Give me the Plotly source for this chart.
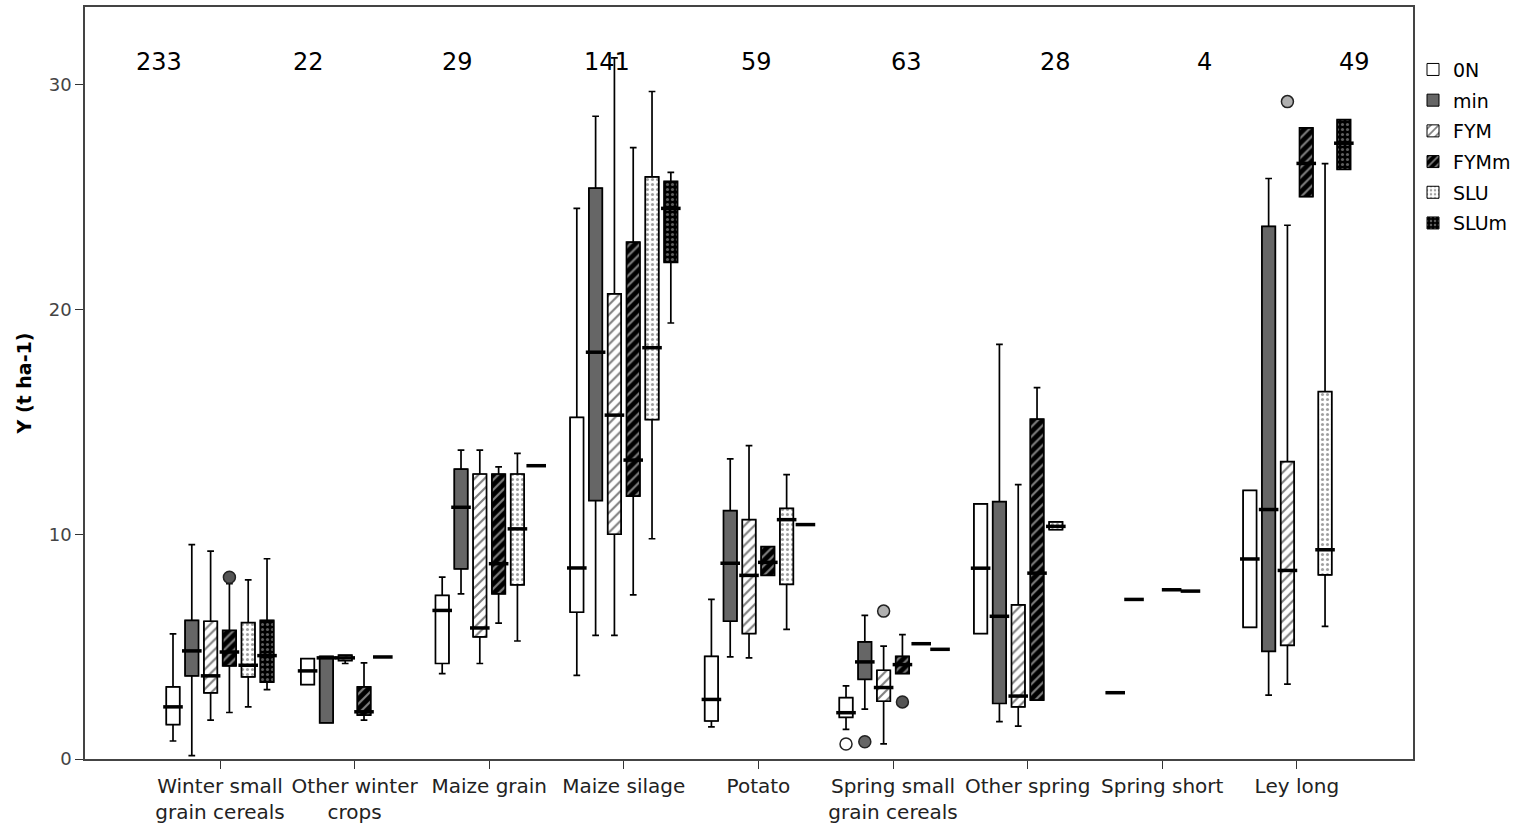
import plotly.graph_objects as go

# ---------------- data ----------------
CATEGORIES = ["Winter small<br>grain cereals", "Other winter<br>crops", "Maize grain",
              "Maize silage", "Potato", "Spring small<br>grain cereals", "Other spring",
              "Spring short", "Ley long"]
COUNTS = [233, 22, 29, 141, 59, 63, 28, 4, 49]
TREATMENTS = ["0N", "min", "FYM", "FYMm", "SLU", "SLUm"]
Y_TICKS = [0, 10, 20, 30]

# (lower whisker, Q1, median, Q3, upper whisker) per category, None = no data
STATS_0N = [(0.80, 1.53, 2.32, 3.21, 5.57), (3.31, 3.31, 3.92, 4.47, 4.47),
            (3.80, 4.25, 6.61, 7.28, 8.09), (3.72, 6.53, 8.50, 15.2, 24.5),
            (1.43, 1.69, 2.65, 4.57, 7.10), (1.32, 1.85, 2.06, 2.73, 3.25),
            (5.58, 5.58, 8.49, 11.35, 11.35), (2.95, 2.95, 2.95, 2.95, 2.95),
            (5.86, 5.86, 8.90, 11.95, 11.95)]
STATS_MIN = [(0.15, 3.70, 4.81, 6.17, 9.54), (1.61, 1.61, 4.50, 4.57, 4.57),
             (7.35, 8.46, 11.2, 12.9, 13.74), (5.50, 11.5, 18.1, 25.4, 28.6),
             (4.54, 6.13, 8.71, 11.05, 13.35), (2.22, 3.54, 4.32, 5.21, 6.39),
             (1.66, 2.47, 6.35, 11.45, 18.45), (7.10, 7.10, 7.10, 7.10, 7.10),
             (2.84, 4.79, 11.1, 23.7, 25.83)]
STATS_FYM = [(1.73, 2.94, 3.70, 6.13, 9.25), (4.25, 4.38, 4.50, 4.62, 4.62),
             (4.25, 5.43, 5.83, 12.68, 13.74), (5.50, 10.0, 15.3, 20.7, 31.2),
             (4.50, 5.58, 8.17, 10.65, 13.94), (0.67, 2.57, 3.18, 3.95, 5.02),
             (1.46, 2.32, 2.80, 6.86, 12.21), None,
             (3.33, 5.06, 8.39, 13.23, 23.75)]
STATS_FYMM = [(2.07, 4.14, 4.76, 5.72, 7.80), (1.73, 1.95, 2.10, 3.21, 4.28),
              (6.05, 7.35, 8.69, 12.68, 13.0), (7.30, 11.7, 13.3, 23.0, 27.2),
              (8.17, 8.17, 8.75, 9.45, 9.45), (3.80, 3.80, 4.20, 4.57, 5.53),
              (2.62, 2.62, 8.27, 15.12, 16.52), (7.53, 7.53, 7.53, 7.53, 7.53),
              (25.02, 25.02, 26.5, 28.08, 28.08)]
STATS_SLU = [(2.32, 3.65, 4.17, 6.07, 7.97), (4.54, 4.54, 4.54, 4.54, 4.54),
             (5.25, 7.75, 10.24, 12.68, 13.6), (9.80, 15.1, 18.3, 25.9, 29.7),
             (5.77, 7.77, 10.65, 11.15, 12.65), (5.13, 5.13, 5.13, 5.13, 5.13),
             (10.2, 10.2, 10.35, 10.55, 10.55), (7.47, 7.47, 7.47, 7.47, 7.47),
             (5.90, 8.19, 9.31, 16.35, 26.49)]
STATS_SLUM = [(3.09, 3.42, 4.60, 6.17, 8.91), None,
              (13.05, 13.05, 13.05, 13.05, 13.05), (19.4, 22.1, 24.5, 25.7, 26.1),
              (10.43, 10.43, 10.43, 10.43, 10.43), (4.88, 4.88, 4.88, 4.88, 4.88),
              None, None,
              (26.23, 26.23, 27.4, 28.45, 28.45)]
ALL_STATS = [STATS_0N, STATS_MIN, STATS_FYM, STATS_FYMM, STATS_SLU, STATS_SLUM]

# outliers: category index, treatment index, value
OUTLIER_CAT = [0, 5, 5, 5, 5, 8]
OUTLIER_TRT = [3, 0, 1, 2, 3, 2]
OUTLIER_VAL = [8.09, 0.67, 0.77, 6.58, 2.54, 29.25]

# ---------------- styles ----------------
FONT = "DejaVu Sans"
SLOT = 0.1397      # spacing between treatments within a category (x units)
BOX_W = 0.10       # box width (x units)
FILL_BG = ["white", "#666666", "white", "black", "white", "black"]
PAT_SHAPE = ["", "", "/", "/", ".", "."]
PAT_FG = ["black", "black", "black", "white", "#444444", "#bbbbbb"]
PAT_SIZE = [8, 8, 7, 7, 5, 5]
PAT_SOLID = [0.3, 0.3, 0.3, 0.3, 0.3, 0.3]
OUT_FILL = ["white", "#666666", "#b0b0b0", "#555555", "#dddddd", "#333333"]

fig = go.Figure()

for j, (name, stats) in enumerate(zip(TREATMENTS, ALL_STATS)):
    xs, lo, q1, med, q3, hi = [], [], [], [], [], []
    for i, s in enumerate(stats):
        if s is None:
            continue
        xs.append(i + (j - 2.5) * SLOT)
        lo.append(s[0]); q1.append(s[1]); med.append(s[2]); q3.append(s[3]); hi.append(s[4])

    # patterned box body
    fig.add_trace(go.Bar(
        x=xs, base=q1, y=[b - a for a, b in zip(q1, q3)], width=BOX_W,
        name=name, legendgroup=name, showlegend=True,
        marker=dict(color=FILL_BG[j],
                    line=dict(color="black", width=1),
                    pattern=dict(shape=PAT_SHAPE[j], bgcolor=FILL_BG[j],
                                 fgcolor=PAT_FG[j], size=PAT_SIZE[j],
                                 solidity=PAT_SOLID[j])),
        hoverinfo="skip"))

    # outline, whiskers and caps
    fig.add_trace(go.Box(
        x=xs, lowerfence=lo, q1=q1, median=med, q3=q3, upperfence=hi,
        width=BOX_W, whiskerwidth=0.5, fillcolor="rgba(0,0,0,0)",
        line=dict(color="black", width=1.7), boxpoints=False,
        name=name, legendgroup=name, showlegend=False))

    # thick median line
    fig.add_trace(go.Scatter(
        x=xs, y=med, mode="markers", showlegend=False, legendgroup=name,
        marker=dict(symbol="line-ew", size=14, line=dict(color="black", width=3.5)),
        hoverinfo="skip"))

# outliers
for c, t, v in zip(OUTLIER_CAT, OUTLIER_TRT, OUTLIER_VAL):
    fig.add_trace(go.Scatter(
        x=[c + (t - 2.5) * SLOT], y=[v], mode="markers", showlegend=False,
        marker=dict(symbol="circle", size=12, color=OUT_FILL[t],
                    line=dict(color="#222222", width=1.5)),
        hoverinfo="skip"))

# counts above groups
COUNT_X0, COUNT_STEP, COUNT_Y = -0.453, 1.110, 31.0
for k, n in enumerate(COUNTS):
    fig.add_annotation(x=COUNT_X0 + k * COUNT_STEP, y=COUNT_Y, text=str(n),
                       showarrow=False, xanchor="center", yanchor="middle",
                       font=dict(family=FONT, size=24, color="black"))

fig.update_layout(
    width=1521, height=832,
    margin=dict(l=85, r=108, t=5, b=73),
    paper_bgcolor="white", plot_bgcolor="white",
    barmode="overlay", boxmode="overlay",
    font=dict(family=FONT, color="black"),
    legend=dict(x=1.0, xanchor="left", y=0.942, yanchor="top",
                font=dict(family=FONT, size=19), itemwidth=30,
                tracegroupgap=3, bgcolor="rgba(0,0,0,0)", traceorder="grouped"),
    xaxis=dict(range=[-1.003, 8.863], tickmode="array",
               tickvals=list(range(len(CATEGORIES))), ticktext=CATEGORIES,
               ticks="outside", ticklen=8, tickcolor="#333", showgrid=False,
               zeroline=False, showline=True, mirror=True, linecolor="#444",
               linewidth=1.5, tickfont=dict(family=FONT, size=20, color="#222")),
    yaxis=dict(range=[0, 33.46], tickmode="array", tickvals=Y_TICKS,
               ticks="outside", ticklen=8, tickcolor="#333", showgrid=False,
               zeroline=False, showline=True, mirror=True, linecolor="#444",
               linewidth=1.5, tickfont=dict(family=FONT, size=18, color="#444"),
               title=dict(text="<b>Y (t ha-1)</b>", standoff=12,
                          font=dict(family=FONT, size=19, color="black"))),
)

fig.write_html("out.html", config={"displayModeBar": False},
               post_script="document.body.style.margin='0';document.body.style.overflow='hidden';")
